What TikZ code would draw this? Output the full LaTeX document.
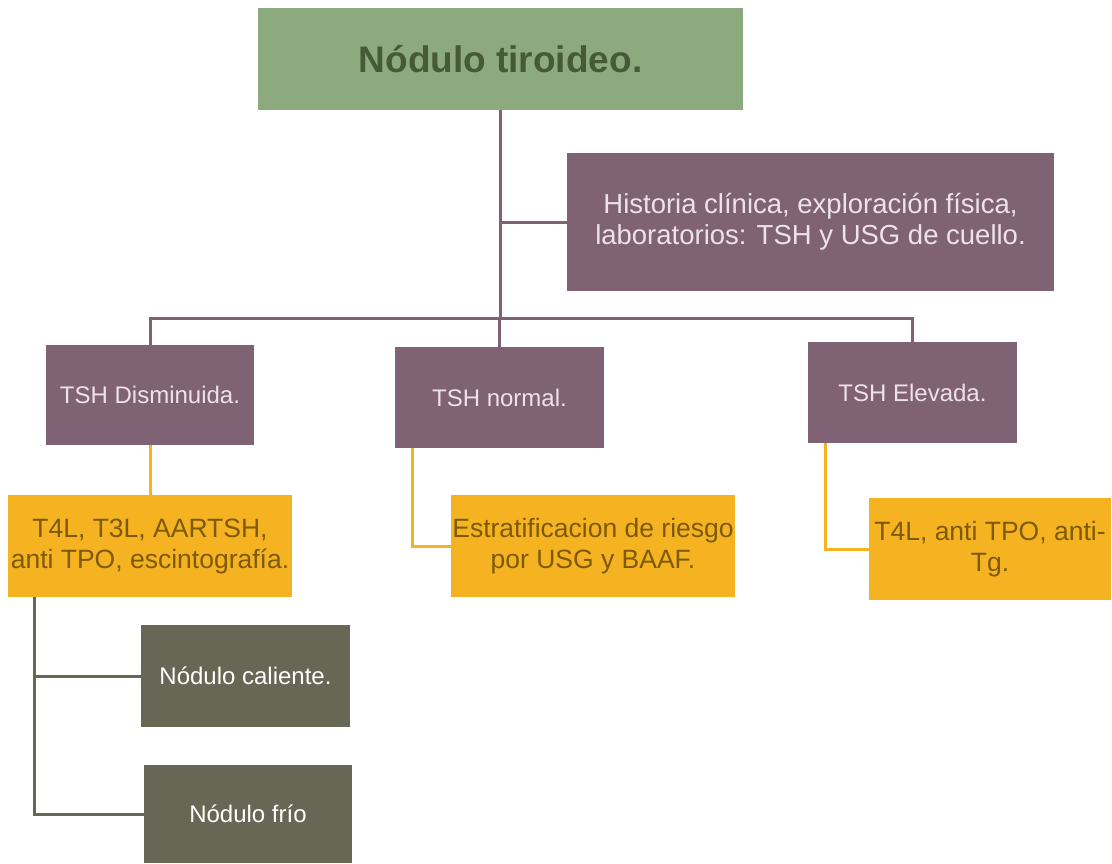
\documentclass[tikz,border=0pt]{standalone}
\usepackage{fontspec}
\setmainfont{Liberation Sans}
\usepackage{tikz}
\usetikzlibrary{positioning}
\definecolor{tiroG}{RGB}{141, 170, 126}
\definecolor{tiroGtext}{RGB}{71, 90, 55}
\definecolor{tiroP}{RGB}{128, 98, 117}
\definecolor{tiroPtext}{RGB}{238, 226, 234}
\definecolor{tiroO}{RGB}{245, 179, 34}
\definecolor{tiroOtext}{RGB}{125, 90, 5}
\definecolor{tiroK}{RGB}{102, 104, 85}

\begin{document}
\begin{tikzpicture}[x=1pt, y=-1pt,
  box/.style={rectangle, inner sep=0pt, align=center, font=\fontsize{24}{28}\selectfont},
  pbox/.style={box, fill=tiroP, text=tiroPtext},
  obox/.style={box, fill=tiroO, text=tiroOtext, font=\fontsize{26.5}{31}\selectfont},
  kbox/.style={box, fill=tiroK, text=white},
  pline/.style={draw=tiroP, line width=3pt},
  oline/.style={draw=tiroO, line width=3pt},
  kline/.style={draw=tiroK, line width=3pt}]
  \useasboundingbox (0,0) rectangle (1112,863);
  % boxes
  \node[box, fill=tiroG, text=tiroGtext, minimum width=485, minimum height=102,
        font=\fontsize{37}{42}\selectfont\bfseries] (tit) at (500.5,59) {Nódulo tiroideo.};
  \node[pbox, minimum width=487, minimum height=138, font=\fontsize{27.5}{31}\selectfont]
    (hist) at (810.5,222)
    {Historia clínica, exploración física,\\laboratorios: TSH y USG de cuello.};
  \node[pbox, minimum width=208, minimum height=100] (tshd) at (150,395) {TSH Disminuida.};
  \node[pbox, minimum width=209, minimum height=101] (tshn) at (499.5,397.5) {TSH normal.};
  \node[pbox, minimum width=209, minimum height=101] (tshe) at (912.5,392.5) {TSH Elevada.};
  \node[obox, minimum width=284, minimum height=102] (labd) at (150,546)
    {T4L, T3L, AARTSH,\\anti TPO, escintografía.};
  \node[obox, minimum width=284, minimum height=102] (estr) at (593,546)
    {Estratificacion de riesgo\\por USG y BAAF.};
  \node[obox, minimum width=242, minimum height=102] (labe) at (990,549)
    {T4L, anti TPO, anti-\\Tg.};
  \node[kbox, minimum width=209, minimum height=102] (cal) at (245.5,676) {Nódulo caliente.};
  \node[kbox, minimum width=208, minimum height=98] (frio) at (248,814) {Nódulo frío};
  % connectors
  \coordinate (bus) at (499,318);
  \draw[pline] (tit.south) -- (tit.south |- bus);
  \draw[pline] (tit.south |- hist.west) -- (hist.west);
  \draw[pline] (tshd.north) -- (tshd.north |- bus) -| (tshe.north);
  \draw[pline] (tshn.north) -- (tshn.north |- bus);
  \draw[oline] (tshd.south) -- (labd.north);
  \draw[oline] ([xshift=18pt]tshn.south west) |- (estr.west);
  \draw[oline] ([xshift=18pt]tshe.south west) |- (labe.west);
  \draw[kline] ([xshift=27pt]labd.south west) |- (cal.west);
  \draw[kline] ([xshift=27pt]labd.south west) |- (frio.west);
\end{tikzpicture}
\end{document}
